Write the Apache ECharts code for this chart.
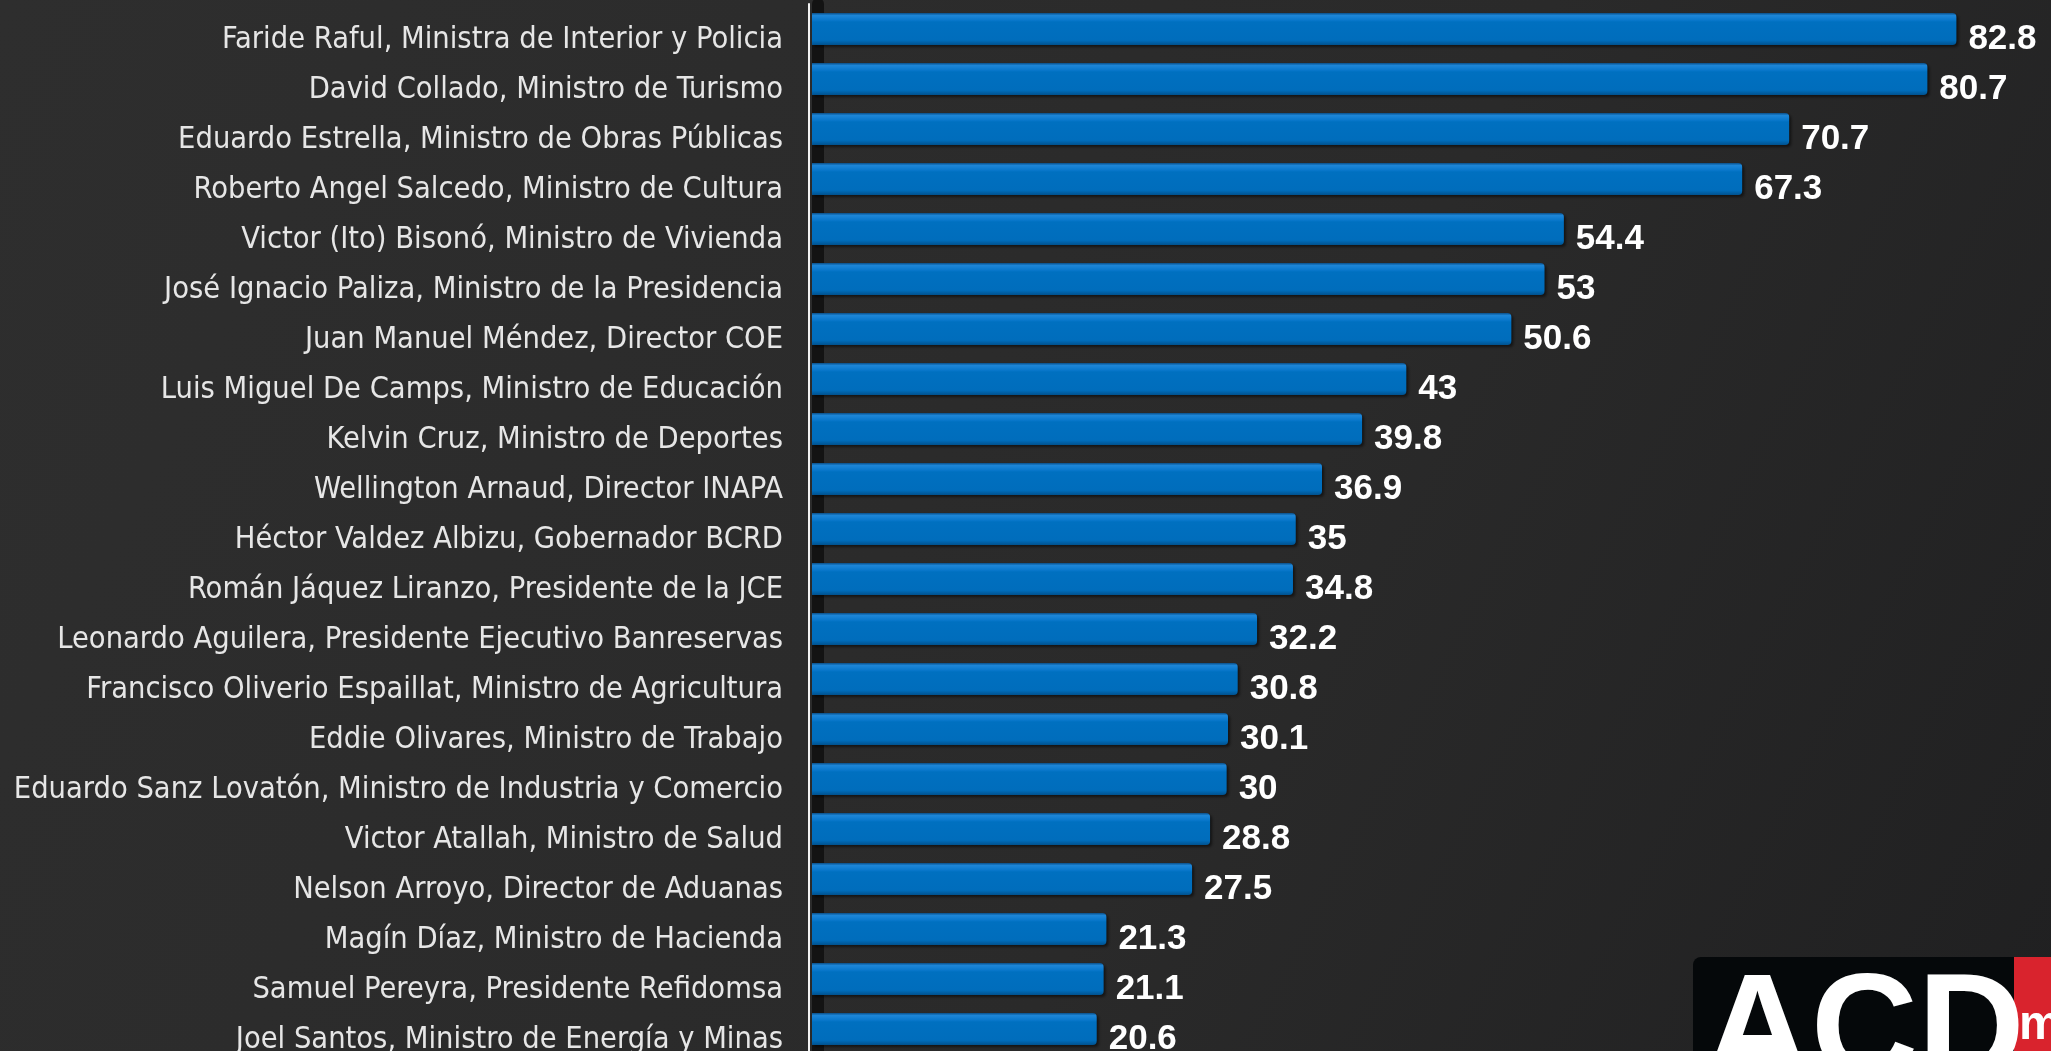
<!DOCTYPE html>
<html>
<head>
<meta charset="utf-8">
<script src="https://cdn.jsdelivr.net/npm/echarts@6/dist/echarts.min.js"></script>
<style>
  html, body { margin: 0; padding: 0; background: #2a2a2a; }
  #chart { width: 2051px; height: 1051px; }
</style>
</head>
<body>
<div id="chart"></div>
<script>
// nombres (de arriba hacia abajo)
var nombres = [
    'Faride Raful, Ministra de Interior y Policia',
    'David Collado, Ministro de Turismo',
    'Eduardo Estrella, Ministro de Obras Públicas',
    'Roberto Angel Salcedo, Ministro de Cultura',
    'Victor (Ito) Bisonó, Ministro de Vivienda',
    'José Ignacio Paliza, Ministro de la Presidencia',
    'Juan Manuel Méndez, Director COE',
    'Luis Miguel De Camps, Ministro de Educación',
    'Kelvin Cruz, Ministro de Deportes',
    'Wellington Arnaud, Director INAPA',
    'Héctor Valdez Albizu, Gobernador BCRD',
    'Román Jáquez Liranzo, Presidente de la JCE',
    'Leonardo Aguilera, Presidente Ejecutivo Banreservas',
    'Francisco Oliverio Espaillat, Ministro de Agricultura',
    'Eddie Olivares, Ministro de Trabajo',
    'Eduardo Sanz Lovatón, Ministro de Industria y Comercio',
    'Victor Atallah, Ministro de Salud',
    'Nelson Arroyo, Director de Aduanas',
    'Magín Díaz, Ministro de Hacienda',
    'Samuel Pereyra, Presidente Refidomsa',
    'Joel Santos, Ministro de Energía y Minas'
];
var valores = [82.8, 80.7, 70.7, 67.3, 54.4, 53, 50.6, 43, 39.8, 36.9, 35,
               34.8, 32.2, 30.8, 30.1, 30, 28.8, 27.5, 21.3, 21.1, 20.6];

var myChart = echarts.init(document.getElementById('chart'));

var option = {
    backgroundColor: new echarts.graphic.LinearGradient(0, 0, 1, 1, [
        {offset: 0, color: '#2e2e2e'},
        {offset: 0.6, color: '#2a2a2a'},
        {offset: 1, color: '#202021'}
    ]),
    animation: false,
    grid: {
        left: 812,
        right: 2,
        top: 4,
        bottom: -3,
        containLabel: false,
        outerBoundsMode: 'none'
    },
    xAxis: {
        type: 'value',
        min: 0,
        max: 89.5,
        show: false
    },
    yAxis: [{
        type: 'category',
        data: nombres,
        inverse: true,
        axisTick: {show: false},
        axisLine: {
            show: true,
            onZero: false,
            lineStyle: {color: '#f2f2f2', width: 2}
        },
        offset: 3,
        axisLabel: {
            color: '#e6e6e6',
            fontFamily: '"DejaVu Sans Condensed", Roboto',
            fontSize: 30.5,
            margin: 26,
            verticalAlign: 'top',
            lineHeight: 22
        }
    }, {
        // pared oscura del grafico 3D
        type: 'category',
        data: nombres,
        inverse: true,
        position: 'left',
        offset: -6,
        axisTick: {show: false},
        axisLabel: {show: false},
        axisLine: {
            show: true,
            onZero: false,
            lineStyle: {color: '#131313', width: 12}
        }
    }],
    series: [{
        type: 'bar',
        data: valores,
        barWidth: 32,
        z: 3,
        itemStyle: {
            borderRadius: [0, 4, 4, 0],
            color: new echarts.graphic.LinearGradient(0, 0, 0, 1, [
                {offset: 0, color: '#0a4f8a'},
                {offset: 0.08, color: '#1d86d8'},
                {offset: 0.22, color: '#0a78cc'},
                {offset: 0.28, color: '#0070c0'},
                {offset: 0.85, color: '#006dbc'},
                {offset: 1, color: '#00528f'}
            ]),
            shadowColor: 'rgba(0,0,0,0.55)',
            shadowOffsetX: 2,
            shadowOffsetY: 2,
            shadowBlur: 3
        },
        label: {
            show: true,
            position: 'right',
            distance: 12,
            offset: [0, 10],
            color: '#ffffff',
            fontFamily: 'Liberation Sans',
            fontWeight: 'bold',
            fontSize: 35
        }
    }],
    graphic: [{
        type: 'rect',
        left: 1693,
        top: 957,
        shape: {width: 380, height: 140, r: 8},
        style: {fill: '#05080a'},
        z: 100
    }, {
        type: 'rect',
        left: 2014,
        top: 957,
        shape: {width: 60, height: 140},
        style: {fill: '#d9232d'},
        z: 101
    }, {
        type: 'text',
        left: 1704,
        top: 962,
        style: {
            text: 'ACD',
            fill: '#ffffff',
            font: 'bold 148px "Liberation Sans"'
        },
        z: 102
    }, {
        type: 'text',
        left: 2019,
        top: 1002,
        style: {
            text: 'm',
            fill: '#ffffff',
            font: 'bold 48px "Liberation Sans"'
        },
        z: 102
    }]
};

myChart.setOption(option);
</script>
</body>
</html>
